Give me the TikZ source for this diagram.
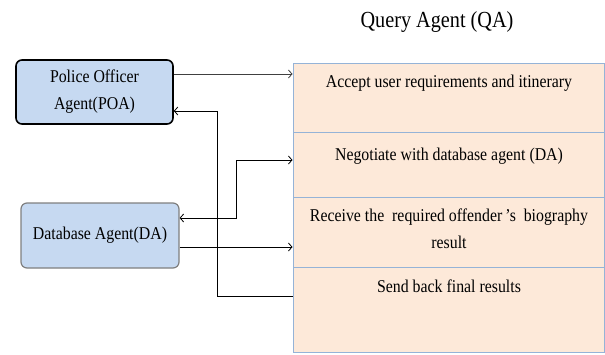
\documentclass[tikz,border=0pt]{standalone}
\usepackage{fontspec}
\setmainfont[FakeStretch=0.88]{Liberation Serif}
\usetikzlibrary{arrows.meta}
\definecolor{peach}{HTML}{FDE9D9}
\definecolor{cellline}{HTML}{95B3D7}
\definecolor{agentfill}{HTML}{C6D9F1}
\definecolor{greyline}{HTML}{7F7F7F}
\tikzset{
  agent/.style={rounded corners=6pt, fill=agentfill, align=center,
    font=\fontsize{18}{27}\selectfont, inner sep=0pt},
  cell/.style={draw=cellline, fill=peach, line width=0.8pt, anchor=north west,
    minimum width=311.5pt, inner sep=0pt},
  celltext/.style={font=\fontsize{18}{27}\selectfont, align=center},
  conn/.style={line width=0.8pt, -{Straight Barb[length=3.5pt,width=8pt]}},
  dconn/.style={line width=0.8pt, {Straight Barb[length=3.5pt,width=8pt]}-{Straight Barb[length=3.5pt,width=8pt]}}
}
\begin{document}
\begin{tikzpicture}[x=1pt,y=-1pt]
\useasboundingbox (0,0) rectangle (605,354);
% title
\node[anchor=base, font=\fontsize{23}{26}\selectfont] (title) at (437,27) {Query Agent (QA)};
% QA cells
\node[cell, minimum height=69pt] (c1) at (292.5,63) {};
\node[cell, minimum height=65pt] (c2) at (292.5,132) {};
\node[cell, minimum height=70pt] (c3) at (292.5,197) {};
\node[cell, minimum height=85pt] (c4) at (292.5,267) {};
\node[celltext, anchor=base] (t1) at (449,87) {Accept user requirements and itinerary};
\node[celltext, anchor=base] (t2) at (449,160) {Negotiate with database agent (DA)};
\node[celltext] (t3) at (449,229) {Receive the\ \ required offender\,'s\ \ biography\\result};
\node[celltext, anchor=base] (t4) at (449,292) {Send back final results};
% agents
\node[agent, draw=black, line width=1.6pt, minimum width=157pt, minimum height=64pt] (poa) at (94.5,92) {Police Officer\\Agent(POA)};
\node[agent, draw=greyline, line width=1.2pt, minimum width=158pt, minimum height=65pt] (da) at (100,235.5) {Database Agent(DA)};
% connectors
\coordinate (p1) at ([yshift=18pt]poa.east);
\draw[conn, draw=black!75] (p1) -- (c1.west |- p1);
\coordinate (s1) at (c4.west |- 0,296);
\coordinate (p2) at ([yshift=-19pt]poa.east);
\draw[conn] (s1) -- (217,296) -- (217,111) -- (p2);
\coordinate (d1) at ([yshift=17.5pt]da.east);
\draw[dconn] (d1) -- (236,218) -- (236,160) -- (c2.west |- 0,160);
\coordinate (d2) at ([yshift=-11.5pt]da.east);
\draw[conn] (d2) -- (c3.west |- d2);
\end{tikzpicture}
\end{document}
